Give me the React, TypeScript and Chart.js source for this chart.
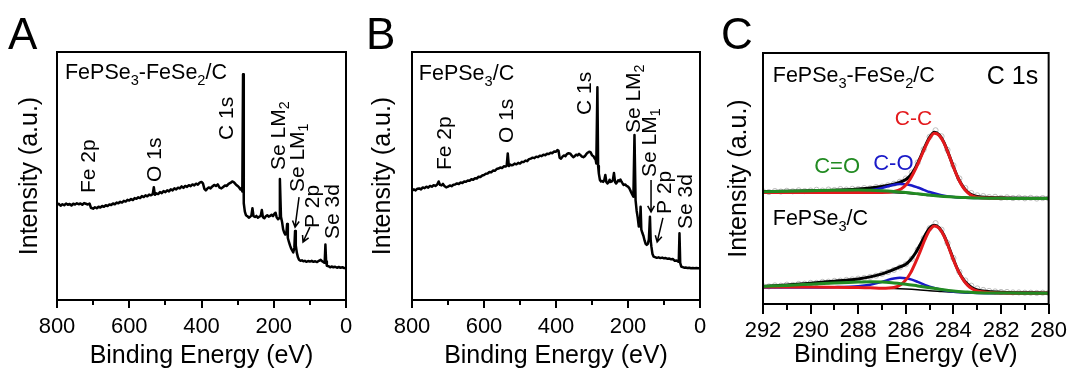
import React, { useEffect, useRef } from 'react';
import { Chart, registerables } from 'chart.js';

Chart.register(...registerables);

const FONT = "Arial, 'Liberation Sans', Helvetica, sans-serif";

// ---------------- Panel A: survey, FePSe3-FeSe2/C ----------------
const surveyA_eV = [
  800, 795, 790, 785, 780, 775, 770, 765, 760, 755, 750, 745, 740, 735, 730, 725, 720, 715, 710, 706,
  700, 695, 690, 685, 680, 675, 670, 665, 660, 655, 650, 645, 640, 635, 630, 625, 620, 615, 610, 605,
  600, 595, 590, 585, 580, 575, 570, 565, 560, 555, 550, 545, 540, 535, 532, 529, 525, 520, 515, 510,
  505, 500, 495, 490, 485, 480, 475, 470, 465, 460, 455, 450, 445, 440, 435, 430, 425, 420, 415, 410,
  405, 400, 396, 392, 388, 384, 380, 375, 370, 365, 360, 355, 350, 345, 340, 335, 330, 325, 320, 315,
  310, 305, 300, 296, 292, 289, 287, 285, 283, 280, 277, 273, 269, 265, 262, 259, 256, 252, 248, 244,
  240, 236, 233, 230, 226, 222, 218, 214, 210, 206, 202, 198, 195, 192, 188, 185, 183, 180, 177, 174,
  171, 168, 165, 163, 161, 158, 155, 152, 149, 146, 143, 141, 139, 136, 133, 130, 126, 122, 118, 114,
  110, 105, 100, 95, 90, 85, 80, 75, 70, 66, 62, 59, 57, 55, 53, 48, 44, 40, 35, 30,
  25, 20, 15, 10, 5, 0,
];
const surveyA_int = [
  38.3, 38.8, 38.0, 38.6, 38.2, 38.9, 38.4, 38.7, 38.1, 38.8, 38.5, 39.0, 38.6, 38.9, 38.4, 39.1, 38.8, 38.5, 38.9, 37.2,
  36.8, 37.4, 37.0, 37.6, 37.3, 37.9, 37.6, 38.2, 37.9, 38.5, 38.3, 38.9, 38.6, 39.3, 39.0, 39.6, 39.3, 40.0, 39.7, 40.4,
  40.1, 40.7, 40.3, 41.1, 40.8, 41.4, 41.1, 41.9, 41.5, 42.2, 41.8, 42.5, 42.2, 42.7, 45.5, 42.4, 43.0, 42.7, 43.5, 43.1,
  43.9, 43.5, 44.2, 43.8, 44.6, 44.2, 45.0, 44.6, 45.3, 45.0, 45.8, 45.2, 46.0, 45.6, 46.3, 45.9, 46.6, 46.2, 46.9, 46.5,
  47.3, 47.6, 47.0, 44.8, 44.2, 44.9, 45.4, 45.0, 45.8, 46.4, 46.0, 46.6, 45.3, 45.0, 45.6, 46.2, 46.0, 46.8, 47.2, 47.8,
  47.4, 46.6, 46.0, 45.4, 44.6, 45.2, 43.8, 91.0, 39.0, 35.6, 34.2, 33.8, 33.2, 33.6, 34.0, 37.0, 33.8, 33.5, 33.9, 33.2,
  33.6, 34.0, 36.3, 33.4, 33.0, 33.8, 34.2, 33.6, 33.9, 34.4, 33.8, 34.8, 35.2, 33.4, 32.6, 33.0, 48.8, 33.6, 31.5, 28.5,
  27.2, 26.4, 27.0, 30.6, 25.0, 23.4, 22.0, 20.8, 20.0, 19.2, 21.0, 27.8, 22.0, 19.0, 17.2, 16.2, 15.8, 16.0, 15.6, 15.8,
  15.4, 15.7, 15.5, 15.8, 15.4, 15.6, 15.3, 15.8, 16.2, 15.6, 15.2, 15.0, 22.4, 15.5, 13.8, 13.6, 13.2, 13.5, 13.2, 13.4,
  13.0, 13.3, 13.0, 13.2, 12.9, 12.8,
];

// ---------------- Panel B: survey, FePSe3/C ----------------
const surveyB_eV = [
  800, 795, 790, 785, 780, 775, 770, 765, 760, 755, 750, 745, 740, 735, 730, 726, 722, 718, 714, 710,
  705, 700, 695, 690, 685, 680, 675, 670, 665, 660, 655, 650, 645, 640, 635, 630, 625, 620, 615, 610,
  605, 600, 595, 590, 585, 580, 575, 570, 565, 560, 555, 550, 545, 540, 537, 534, 531, 527, 523, 520,
  515, 510, 505, 500, 495, 490, 485, 480, 475, 470, 465, 460, 455, 450, 445, 440, 435, 430, 425, 420,
  415, 410, 405, 400, 396, 393, 390, 386, 382, 378, 374, 370, 365, 360, 356, 352, 348, 344, 340, 336,
  332, 328, 324, 320, 316, 312, 308, 304, 300, 296, 293, 290, 288, 285, 283, 281, 278, 275, 272, 269,
  266, 263, 260, 257, 254, 251, 248, 245, 242, 239, 236, 233, 230, 227, 224, 221, 218, 215, 212, 208,
  204, 200, 196, 192, 188, 185, 182, 179, 176, 173, 170, 167, 165, 163, 160, 157, 154, 151, 148, 145,
  142, 139, 137, 135, 132, 129, 125, 120, 115, 110, 105, 100, 95, 90, 85, 80, 75, 70, 65, 62,
  59, 57, 55, 52, 48, 44, 40, 35, 30, 25, 20, 15, 10, 5, 0,
];
const surveyB_int = [
  44.0, 44.6, 44.2, 44.9, 45.0, 44.6, 45.4, 45.1, 45.7, 45.3, 46.0, 45.7, 46.3, 46.0, 46.6, 47.8, 46.4, 46.2, 46.8, 46.0,
  45.4, 45.7, 46.2, 45.9, 46.5, 46.6, 47.0, 46.8, 47.4, 47.2, 47.8, 47.7, 48.2, 48.1, 48.7, 48.5, 49.1, 49.0, 49.7, 49.6,
  50.2, 50.4, 50.9, 51.0, 51.6, 51.5, 52.2, 52.1, 52.8, 53.0, 53.4, 53.2, 53.9, 53.8, 54.2, 59.1, 54.0, 54.6, 54.3, 54.4,
  55.0, 54.7, 55.3, 55.0, 55.7, 55.6, 56.2, 56.0, 56.8, 57.0, 57.4, 57.2, 57.8, 57.6, 58.2, 58.0, 58.6, 58.4, 59.0, 58.9,
  59.4, 59.2, 59.9, 59.8, 60.5, 60.2, 57.4, 57.0, 57.8, 58.3, 58.0, 58.8, 59.2, 59.0, 58.2, 57.6, 58.0, 58.6, 58.3, 58.9,
  58.4, 57.8, 57.6, 58.0, 58.8, 59.4, 59.8, 59.6, 58.4, 58.0, 57.2, 56.6, 55.0, 85.8, 54.0, 51.0, 48.4, 47.8, 48.0, 47.6,
  48.3, 50.4, 47.5, 47.0, 47.4, 48.5, 47.6, 47.8, 48.4, 51.2, 47.6, 47.0, 47.6, 48.3, 47.9, 48.6, 47.7, 47.0, 46.4, 46.6,
  46.0, 45.7, 45.0, 43.7, 42.5, 41.7, 66.5, 40.3, 36.0, 33.2, 29.6, 29.8, 37.6, 28.4, 27.0, 25.8, 24.0, 22.6, 22.2, 22.6,
  24.5, 33.6, 24.0, 21.5, 18.5, 17.5, 17.3, 17.0, 17.2, 16.9, 17.1, 16.8, 16.9, 16.6, 16.7, 16.4, 16.5, 15.8, 15.9, 15.6,
  15.4, 26.9, 15.0, 13.4, 13.3, 13.0, 13.1, 12.9, 13.0, 12.8, 12.9, 12.8, 12.9, 12.8, 12.8,
];

// ---------------- Panel C: C 1s high resolution ----------------
const c1sRaw_eV = [
  292, 291.75, 291.5, 291.25, 291, 290.75, 290.5, 290.25, 290, 289.75, 289.5, 289.25, 289, 288.75, 288.5, 288.25,
  288, 287.75, 287.5, 287.25, 287, 286.75, 286.5, 286.25, 286, 285.75, 285.5, 285.25, 285, 284.75, 284.5, 284.25,
  284, 283.75, 283.5, 283.25, 283, 282.75, 282.5, 282.25, 282, 281.75, 281.5, 281.25, 281, 280.75, 280.5, 280.25, 280,
];
const c1sRawTop = [
  44.9, 44.6, 45.0, 44.8, 45.1, 44.9, 45.3, 45.0, 45.2, 45.5, 45.2, 45.6, 45.4, 45.8, 45.6, 45.9,
  45.8, 46.2, 46.1, 46.6, 46.8, 47.3, 47.9, 48.7, 50.0, 52.4, 56.4, 61.6, 66.6, 69.2, 66.8, 61.4,
  55.2, 50.0, 46.2, 44.2, 43.3, 43.0, 42.6, 42.7, 42.3, 42.5, 42.2, 42.4, 42.1, 42.3, 42.0, 42.2, 42.1,
];
const c1sRawBottom = [
  7.1, 7.0, 7.4, 7.3, 7.7, 7.6, 8.0, 8.1, 8.4, 8.4, 8.8, 8.9, 9.2, 9.3, 9.6, 9.8,
  10.1, 10.4, 10.8, 11.3, 12.0, 12.7, 13.6, 14.6, 15.8, 18.0, 21.6, 26.2, 30.2, 32.2, 29.6, 24.3,
  18.3, 12.8, 9.4, 7.3, 6.2, 5.6, 5.2, 5.0, 4.8, 4.8, 4.6, 4.6, 4.5, 4.5, 4.4, 4.5, 4.4,
];

const c1sEnv_eV = [
  292, 291, 290, 289, 288.5, 288, 287.5, 287, 286.6, 286.3, 286, 285.8, 285.6, 285.4, 285.2, 285,
  284.8, 284.6, 284.4, 284.2, 284, 283.8, 283.6, 283.4, 283.2, 283, 282, 280,
];
const c1sEnvTop = [
  44.8, 44.9, 45.1, 45.3, 45.5, 45.8, 46.2, 46.8, 47.5, 48.3, 49.6, 51.3, 54.2, 58.2, 62.6, 66.4,
  68.4, 67.4, 64.4, 59.7, 54.7, 50.1, 46.8, 44.6, 43.4, 42.8, 42.3, 42.1,
];
const c1sEnvBottom = [
  7.0, 7.6, 8.3, 9.1, 9.5, 10.0, 10.8, 12.0, 13.4, 14.6, 15.8, 17.6, 20.2, 23.6, 27.2, 30.3,
  31.4, 30.4, 27.4, 22.8, 17.8, 13.3, 10.0, 7.8, 6.4, 5.6, 4.7, 4.4,
];

const c1sCC_eV = [
  292, 290, 288, 287.5, 287, 286.5, 286.2, 286, 285.8, 285.6, 285.4, 285.2, 285, 284.8, 284.6, 284.4,
  284.2, 284, 283.8, 283.6, 283.4, 283.2, 283, 282.5, 282, 281, 280,
];
const c1sCCTop = [
  44.4, 44.4, 44.4, 44.4, 44.4, 44.8, 45.8, 47.4, 50.0, 53.6, 57.8, 62.2, 66.0, 68.0, 67.2, 64.2,
  59.6, 54.6, 50.0, 46.6, 44.4, 43.1, 42.5, 42.2, 42.1, 42.0, 42.0,
];
const c1sCCBottom = [
  6.8, 6.8, 6.6, 6.5, 6.3, 6.6, 7.8, 9.6, 12.4, 16.4, 20.8, 25.6, 29.4, 31.1, 30.2, 27.2,
  22.6, 17.6, 13.2, 9.8, 7.4, 6.0, 5.2, 4.6, 4.4, 4.3, 4.3,
];

const c1sCO_eV = [
  292, 291, 290, 289, 288, 287.5, 287, 286.75, 286.5, 286.25, 286, 285.75, 285.5, 285.25, 285, 284.5,
  284, 283.5, 283, 282, 280,
];
const c1sCOTop = [
  44.4, 44.4, 44.4, 44.5, 44.8, 45.3, 46.2, 46.9, 47.5, 47.8, 47.7, 47.2, 46.4, 45.5, 44.6, 43.3,
  42.6, 42.3, 42.2, 42.1, 42.0,
];
const c1sCOBottom = [
  6.6, 6.6, 6.6, 6.7, 7.1, 7.7, 8.8, 9.6, 10.2, 10.5, 10.3, 9.7, 8.8, 7.8, 6.9, 5.7,
  4.9, 4.6, 4.4, 4.3, 4.3,
];

const c1sCdO_eV = [
  292, 291, 290, 289, 288, 287.5, 287, 286.5, 286, 285.5, 285, 284.5, 284, 283.5, 283, 282, 281, 280,
];
const c1sCdOTop = [
  44.7, 44.9, 45.1, 45.3, 45.4, 45.3, 45.1, 44.8, 44.4, 43.9, 43.4, 42.9, 42.6, 42.4, 42.2, 42.1, 42.0, 42.0,
];
const c1sCdOBottom = [
  7.0, 7.4, 7.9, 8.4, 8.8, 8.9, 8.8, 8.4, 7.9, 7.2, 6.5, 5.8, 5.2, 4.8, 4.5, 4.4, 4.3, 4.3,
];

const c1sBg_eV = [292, 290, 288, 287, 286, 285.5, 285, 284.5, 284, 283.5, 283, 282, 280];
const c1sBgTop = [44.6, 44.6, 44.6, 44.5, 44.1, 43.7, 43.2, 42.8, 42.5, 42.3, 42.2, 42.1, 42.0];
const c1sBgBottom = [6.9, 6.8, 6.6, 6.4, 6.0, 5.7, 5.3, 5.0, 4.7, 4.5, 4.4, 4.3, 4.3];

// ---------------- Axis ticks ----------------
const surveyTicks = [800, 700, 600, 500, 400, 300, 200, 100, 0];
const surveyTickLabels = ['800', '', '600', '', '400', '', '200', '', '0'];
const c1sTicks = [292, 291, 290, 289, 288, 287, 286, 285, 284, 283, 282, 281, 280];
const c1sTickLabels = ['292', '', '290', '', '288', '', '286', '', '284', '', '282', '', '280'];

// ---------------- Annotations (data coordinates) ----------------
type Note = { text: string; x: number; y: number; size: number; color: string; vertical: boolean };
type Arrow = { x1: number; y1: number; x2: number; y2: number };

const notesA: Note[] = [
  { text: 'FePSe_3-FeSe_2/C', x: 778, y: 89.1, size: 21.5, color: '#000', vertical: false },
  { text: 'Fe 2p', x: 711, y: 43.1, size: 21, color: '#000', vertical: true },
  { text: 'O 1s', x: 529, y: 47.6, size: 21, color: '#000', vertical: true },
  { text: 'C 1s', x: 329, y: 64.5, size: 21, color: '#000', vertical: true },
  { text: 'Se LM_2', x: 185, y: 52.4, size: 21, color: '#000', vertical: true },
  { text: 'Se LM_1', x: 133, y: 43.5, size: 21, color: '#000', vertical: true },
  { text: 'P 2p', x: 91, y: 29.0, size: 21, color: '#000', vertical: true },
  { text: 'Se 3d', x: 36, y: 24.6, size: 21, color: '#000', vertical: true },
];
const arrowsA: Arrow[] = [
  { x1: 130, y1: 41.5, x2: 141, y2: 29.4 },
  { x1: 100, y1: 29.4, x2: 119, y2: 23.4 },
];
const notesB: Note[] = [
  { text: 'FePSe_3/C', x: 781, y: 88.7, size: 21.5, color: '#000', vertical: false },
  { text: 'Fe 2p', x: 708, y: 52.4, size: 21, color: '#000', vertical: true },
  { text: 'O 1s', x: 536, y: 63.3, size: 21, color: '#000', vertical: true },
  { text: 'C 1s', x: 319, y: 74.6, size: 21, color: '#000', vertical: true },
  { text: 'Se LM_2', x: 183, y: 67.3, size: 21, color: '#000', vertical: true },
  { text: 'Se LM_1', x: 139, y: 49.6, size: 21, color: '#000', vertical: true },
  { text: 'P 2p', x: 97, y: 34.7, size: 21, color: '#000', vertical: true },
  { text: 'Se 3d', x: 39, y: 28.6, size: 21, color: '#000', vertical: true },
];
const arrowsB: Arrow[] = [
  { x1: 136, y1: 48.4, x2: 136, y2: 35.5 },
  { x1: 103, y1: 33.1, x2: 119, y2: 23.4 },
];
const notesC: Note[] = [
  { text: 'FePSe_3-FeSe_2/C', x: 291.59, y: 88.4, size: 21.5, color: '#000', vertical: false },
  { text: 'C 1s', x: 282.6, y: 87.6, size: 25, color: '#000', vertical: false },
  { text: 'C-C', x: 286.46, y: 71.3, size: 21, color: '#e3191c', vertical: false },
  { text: 'C-O', x: 287.37, y: 53.4, size: 22, color: '#1a1ac8', vertical: false },
  { text: 'C=O', x: 289.85, y: 52.2, size: 22, color: '#228b22', vertical: false },
  { text: 'FePSe_3/C', x: 291.59, y: 31.5, size: 21.5, color: '#000', vertical: false },
];

// ---------------- helpers ----------------
function segments(text: string) {
  const out: { t: string; sub: boolean }[] = [];
  let buf = '';
  for (let i = 0; i < text.length; i++) {
    if (text[i] === '_' && i + 1 < text.length) {
      if (buf) out.push({ t: buf, sub: false });
      buf = '';
      out.push({ t: text[i + 1], sub: true });
      i++;
    } else buf += text[i];
  }
  if (buf) out.push({ t: buf, sub: false });
  return out;
}

function drawRich(ctx: CanvasRenderingContext2D, n: Note, px: number, py: number) {
  ctx.save();
  ctx.translate(px, py);
  if (n.vertical) {
    ctx.rotate(-Math.PI / 2);
    ctx.textBaseline = 'middle';
  } else {
    ctx.textBaseline = 'alphabetic';
  }
  ctx.fillStyle = n.color;
  ctx.textAlign = 'left';
  let cx = 0;
  for (const s of segments(n.text)) {
    const sz = s.sub ? n.size * 0.68 : n.size;
    ctx.font = `${sz}px ${FONT}`;
    ctx.fillText(s.t, cx, s.sub ? n.size * 0.28 : 0);
    cx += ctx.measureText(s.t).width;
  }
  ctx.restore();
}

type PanelCfg = {
  letter: string;
  letterX: number;
  xMin: number;
  xMax: number;
  ticks: number[];
  tickLabels: string[];
  majorLen: number;
  minorLen: number;
  axisW: number;
  axisH: number;
  padTop: number;
  padRight: number;
  yTitlePad: number;
  xTitlePad: number;
  tickPad: number;
  notes: Note[];
  arrows: Arrow[];
  datasets: any[];
};

function overlay(cfg: PanelCfg) {
  return {
    id: 'overlay' + cfg.letter,
    afterDraw(chart: any) {
      const ctx: CanvasRenderingContext2D = chart.ctx;
      const { left, right, top, bottom } = chart.chartArea;
      const xs = chart.scales.x;
      const ys = chart.scales.y;
      ctx.save();
      ctx.strokeStyle = '#000';
      ctx.lineWidth = 2;
      ctx.strokeRect(left, top, right - left, bottom - top);
      xs.ticks.forEach((t: any) => {
        const idx = cfg.ticks.indexOf(t.value);
        const major = idx >= 0 && cfg.tickLabels[idx] !== '';
        const px = Math.round(xs.getPixelForValue(t.value));
        ctx.beginPath();
        ctx.moveTo(px, bottom);
        ctx.lineTo(px, bottom + (major ? cfg.majorLen : cfg.minorLen));
        ctx.stroke();
      });
      ctx.fillStyle = '#000';
      ctx.font = `44px ${FONT}`;
      ctx.textBaseline = 'alphabetic';
      ctx.textAlign = 'left';
      ctx.fillText(cfg.letter, cfg.letterX, 49);
      ctx.lineWidth = 1.5;
      cfg.arrows.forEach((a) => {
        const x1 = xs.getPixelForValue(a.x1);
        const y1 = ys.getPixelForValue(a.y1);
        const x2 = xs.getPixelForValue(a.x2);
        const y2 = ys.getPixelForValue(a.y2);
        const ang = Math.atan2(y2 - y1, x2 - x1);
        const L = 7;
        ctx.beginPath();
        ctx.moveTo(x1, y1);
        ctx.lineTo(x2, y2);
        ctx.moveTo(x2 - L * Math.cos(ang - 0.5), y2 - L * Math.sin(ang - 0.5));
        ctx.lineTo(x2, y2);
        ctx.lineTo(x2 - L * Math.cos(ang + 0.5), y2 - L * Math.sin(ang + 0.5));
        ctx.stroke();
      });
      ctx.restore();
      cfg.notes.forEach((n) => {
        drawRich(ctx, n, xs.getPixelForValue(n.x), ys.getPixelForValue(n.y));
      });
    },
  };
}

function pts(xs: number[], ys: number[]) {
  return xs.map((x, i) => ({ x, y: ys[i] }));
}

function line(xs: number[], ys: number[], color: string, width: number, smooth: boolean) {
  return {
    data: pts(xs, ys),
    borderColor: color,
    backgroundColor: color,
    borderWidth: width,
    pointRadius: 0,
    tension: 0,
    cubicInterpolationMode: smooth ? 'monotone' : 'default',
    borderJoinStyle: 'round',
    borderCapStyle: 'round',
    fill: false,
  };
}

function rawPoints(xs: number[], ys: number[]) {
  return {
    data: pts(xs, ys),
    showLine: false,
    pointRadius: 2.6,
    pointBorderWidth: 1,
    pointBorderColor: '#bdbdbd',
    pointBackgroundColor: 'rgba(255,255,255,0)',
    borderColor: '#bdbdbd',
  };
}

function makeConfig(cfg: PanelCfg): any {
  return {
    type: 'line',
    data: { datasets: cfg.datasets },
    options: {
      responsive: false,
      animation: false,
      devicePixelRatio: 1,
      layout: { padding: { top: cfg.padTop, right: cfg.padRight, bottom: 0, left: 0 } },
      plugins: { legend: { display: false }, tooltip: { enabled: false } },
      events: [],
      scales: {
        x: {
          type: 'linear',
          min: cfg.xMin,
          max: cfg.xMax,
          reverse: true,
          afterFit: (s: any) => {
            s.height = cfg.axisH;
          },
          afterBuildTicks: (s: any) => {
            s.ticks = cfg.ticks.map((v) => ({ value: v }));
          },
          ticks: {
            autoSkip: false,
            maxRotation: 0,
            padding: cfg.tickPad,
            color: '#000',
            font: { family: FONT, size: 22 },
            callback: (v: number) => {
              const i = cfg.ticks.indexOf(v);
              return i >= 0 ? cfg.tickLabels[i] : '';
            },
          },
          grid: { display: false },
          border: { display: false },
          title: {
            display: true,
            text: 'Binding Energy (eV)',
            color: '#000',
            font: { family: FONT, size: 25 },
            padding: { top: 0, bottom: cfg.xTitlePad },
          },
        },
        y: {
          type: 'linear',
          min: 0,
          max: 100,
          afterFit: (s: any) => {
            s.width = cfg.axisW;
          },
          ticks: { display: false },
          grid: { display: false },
          border: { display: false },
          title: {
            display: true,
            text: 'Intensity (a.u.)',
            color: '#000',
            font: { family: FONT, size: 25 },
            padding: { top: cfg.yTitlePad, bottom: 0 },
          },
        },
      },
    },
    plugins: [overlay(cfg)],
  };
}

const panelA: PanelCfg = {
  letter: 'A', letterX: 8, xMin: 0, xMax: 800,
  ticks: surveyTicks, tickLabels: surveyTickLabels, majorLen: 8, minorLen: 5,
  axisW: 57, axisH: 74, padTop: 52, padRight: 14,
  yTitlePad: 15, xTitlePad: 3, tickPad: 6,
  notes: notesA, arrows: arrowsA,
  datasets: [line(surveyA_eV, surveyA_int, '#000', 2.5, false)],
};

const panelB: PanelCfg = {
  letter: 'B', letterX: 6, xMin: 0, xMax: 800,
  ticks: surveyTicks, tickLabels: surveyTickLabels, majorLen: 8, minorLen: 5,
  axisW: 52, axisH: 74, padTop: 52, padRight: 20,
  yTitlePad: 8, xTitlePad: 3, tickPad: 6,
  notes: notesB, arrows: arrowsB,
  datasets: [line(surveyB_eV, surveyB_int, '#000', 2.5, false)],
};

const RED = '#e3191c';
const BLUE = '#1a1ac8';
const GREEN = '#228b22';

const panelC: PanelCfg = {
  letter: 'C', letterX: 1, xMin: 280, xMax: 292,
  ticks: c1sTicks, tickLabels: c1sTickLabels, majorLen: 10, minorLen: 6,
  axisW: 43, axisH: 70, padTop: 53, padRight: 20,
  yTitlePad: 4, xTitlePad: 4, tickPad: 6,
  notes: notesC, arrows: [],
  datasets: [
    line(c1sCdO_eV, c1sCdOTop, GREEN, 3, true),
    line(c1sCC_eV, c1sCCTop, RED, 3, true),
    line(c1sCO_eV, c1sCOTop, BLUE, 2.5, true),
    line(c1sEnv_eV, c1sEnvTop, '#000', 3, true),
    line(c1sBg_eV, c1sBgTop, '#000', 1.5, true),
    rawPoints(c1sRaw_eV, c1sRawTop),
    line(c1sCdO_eV, c1sCdOBottom, GREEN, 3, true),
    line(c1sCC_eV, c1sCCBottom, RED, 3, true),
    line(c1sCO_eV, c1sCOBottom, BLUE, 2.5, true),
    line(c1sEnv_eV, c1sEnvBottom, '#000', 3, true),
    line(c1sBg_eV, c1sBgBottom, '#000', 1.5, true),
    rawPoints(c1sRaw_eV, c1sRawBottom),
  ],
};

function Panel({ left, width, cfg }: { left: number; width: number; cfg: PanelCfg }) {
  const ref = useRef<HTMLCanvasElement>(null);
  useEffect(() => {
    const chart = new Chart(ref.current as HTMLCanvasElement, makeConfig(cfg));
    return () => chart.destroy();
  }, [cfg]);
  return (
    <div style={{ position: 'absolute', left, top: 0, width, height: 374 }}>
      <canvas ref={ref} width={width} height={374} style={{ display: 'block', width, height: 374 }} />
    </div>
  );
}

export default function App() {
  return (
    <div style={{ position: 'absolute', left: 0, top: 0, width: 1073, height: 374, background: '#fff', overflow: 'hidden' }}>
      <Panel left={0} width={360} cfg={panelA} />
      <Panel left={360} width={360} cfg={panelB} />
      <Panel left={720} width={353} cfg={panelC} />
    </div>
  );
}
